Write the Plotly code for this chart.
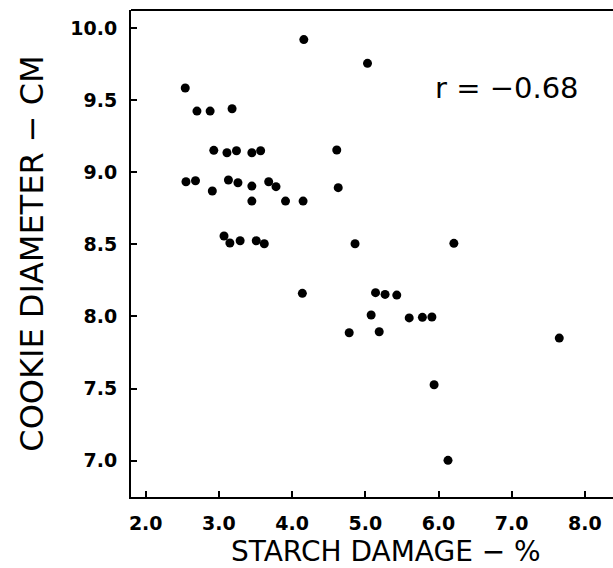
import plotly.graph_objects as go

starch_damage = [4.16, 5.03, 2.54, 2.70, 2.88, 3.18, 2.93, 3.11, 3.24, 3.45, 3.57, 4.61,
                 2.55, 2.68, 2.91, 3.13, 3.26, 3.45, 3.68, 3.78, 4.63, 3.45, 3.91, 4.15,
                 3.07, 3.15, 3.29, 3.51, 3.62, 4.86, 6.21, 4.14, 5.14, 5.27, 5.43, 5.08,
                 5.60, 5.78, 5.91, 4.78, 5.19, 7.65, 5.94, 6.13]
cookie_diameter = [9.92, 9.755, 9.584, 9.424, 9.424, 9.44, 9.152, 9.135, 9.149, 9.135, 9.149, 9.154,
                   8.934, 8.941, 8.87, 8.946, 8.927, 8.904, 8.934, 8.90, 8.893, 8.80, 8.80, 8.80,
                   8.558, 8.509, 8.525, 8.525, 8.504, 8.504, 8.507, 8.16, 8.165, 8.153, 8.148, 8.01,
                   7.99, 7.994, 7.996, 7.887, 7.894, 7.85, 7.526, 7.002]
x_ticks = [2.0, 3.0, 4.0, 5.0, 6.0, 7.0, 8.0]
x_tick_labels = ["2.0", "3.0", "4.0", "5.0", "6.0", "7.0", "8.0"]
y_ticks = [7.0, 7.5, 8.0, 8.5, 9.0, 9.5, 10.0]
y_tick_labels = ["7.0", "7.5", "8.0", "8.5", "9.0", "9.5", "10.0"]
x_title = "STARCH DAMAGE \u2212 %"
y_title = "COOKIE DIAMETER \u2212 CM"
r_label = "r = \u22120.68"

font = "DejaVu Sans, sans-serif"

fig = go.Figure()
fig.add_trace(go.Scatter(
    x=starch_damage, y=cookie_diameter, mode="markers",
    marker=dict(size=9, color="black"), showlegend=False,
))

tickfont = dict(size=19, family=font, weight="bold", color="black")

fig.update_layout(
    width=613, height=568,
    margin=dict(l=131, r=0, t=10, b=71),
    plot_bgcolor="white", paper_bgcolor="white",
    font=dict(family=font, color="black"),
    xaxis=dict(
        range=[1.799, 8.384], tickvals=x_ticks, ticktext=x_tick_labels,
        ticks="inside", ticklen=6, tickwidth=1.5, tickcolor="black",
        showline=True, linecolor="black", linewidth=2, showgrid=False, zeroline=False,
        tickfont=tickfont, ticklabelstandoff=8, automargin=False,
    ),
    yaxis=dict(
        range=[6.748, 10.125], tickvals=y_ticks, ticktext=y_tick_labels,
        ticks="inside", ticklen=6, tickwidth=1.5, tickcolor="black",
        showline=True, linecolor="black", linewidth=2, showgrid=False, zeroline=False,
        tickfont=tickfont, ticklabelstandoff=8, automargin=False,
        title=dict(text=y_title, font=dict(size=32, family=font), standoff=17),
    ),
    shapes=[dict(type="line", xref="paper", yref="paper", x0=0, x1=1, y0=1, y1=1,
                 line=dict(color="black", width=2))],
    annotations=[
        dict(x=6.93, y=9.584, xref="x", yref="y", text=r_label, showarrow=False,
             font=dict(size=29, family=font, color="black")),
        dict(x=0.529, y=-0.1119, xref="paper", yref="paper", text=x_title, showarrow=False,
             xanchor="center", yanchor="middle",
             font=dict(size=28, family=font, color="black")),
    ],
)

fig.write_html("out.html", config={"displayModeBar": False},
               post_script="document.body.style.margin='0';")
